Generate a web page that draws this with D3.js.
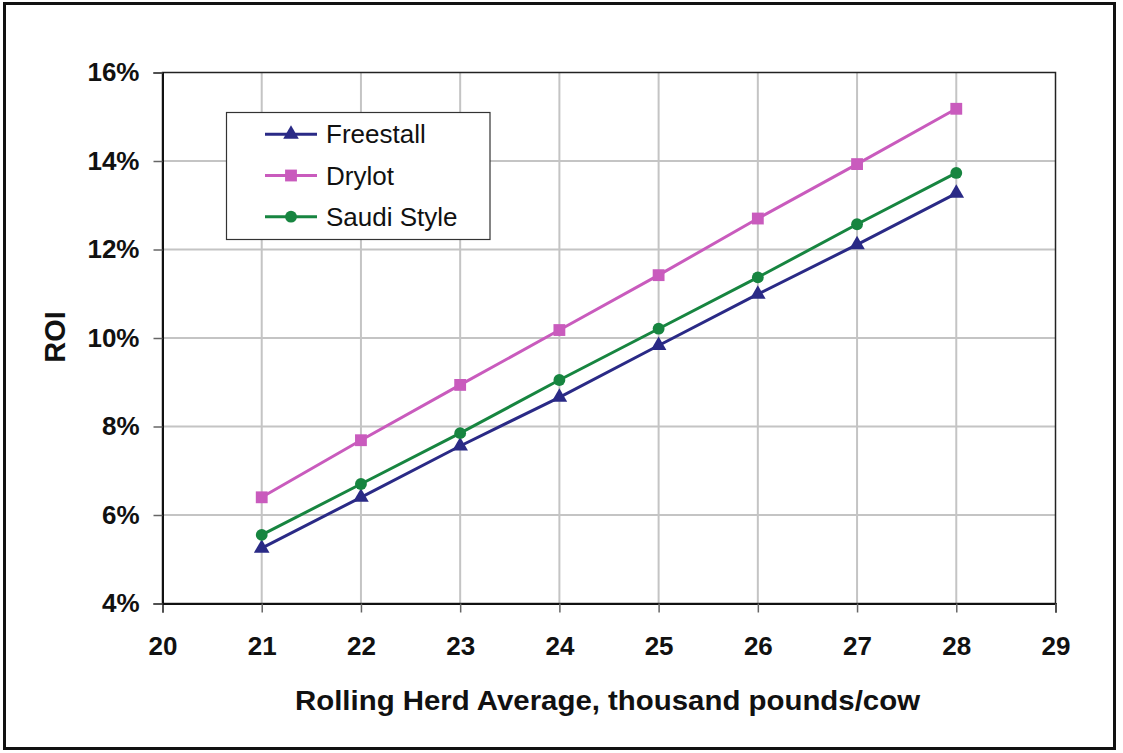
<!DOCTYPE html>
<html>
<head>
<meta charset="utf-8">
<script src="https://cdn.jsdelivr.net/npm/d3@7"></script>
<style>
  html, body { margin: 0; padding: 0; background: #fff; }
  svg { display: block; }
  text { font-family: Arial, "Liberation Sans", sans-serif; fill: #111; }
</style>
</head>
<body>
<svg id="chart" width="1123" height="753"></svg>
<script>
const xValues = [21, 22, 23, 24, 25, 26, 27, 28];
const freestall = [5.25, 6.40, 7.56, 8.66, 9.83, 10.99, 12.11, 13.27];
const drylot    = [6.40, 7.69, 8.94, 10.18, 11.42, 12.70, 13.93, 15.18];
const saudi     = [5.55, 6.70, 7.85, 9.05, 10.21, 11.37, 12.57, 13.73];
const seriesNames = ["Freestall", "Drylot", "Saudi Style"];
const xTicks = [20, 21, 22, 23, 24, 25, 26, 27, 28, 29];
const yTicks = [4, 6, 8, 10, 12, 14, 16];
const xTitle = "Rolling Herd Average, thousand pounds/cow";
const yTitle = "ROI";

const series = [
  { name: seriesNames[0], values: freestall, color: "#2a2a86", symbol: d3.symbolTriangle, size: 105 },
  { name: seriesNames[1], values: drylot,    color: "#c95bbd", symbol: d3.symbolSquare,   size: 140 },
  { name: seriesNames[2], values: saudi,     color: "#178540", symbol: d3.symbolCircle,   size: 110 }
];

const svg = d3.select("#chart");
const plot = { left: 162.5, top: 72.5, right: 1055.5, bottom: 603.5 };
const FONT = "Arial, 'Liberation Sans', sans-serif";

// outer frame
svg.append("rect").attr("x", 4.5).attr("y", 3.5).attr("width", 1110).attr("height", 745)
  .attr("fill", "#fff").attr("stroke", "#111").attr("stroke-width", 3);

const x = d3.scaleLinear().domain([20, 29]).range([plot.left, plot.right]);
const y = d3.scaleLinear().domain([4, 16]).range([plot.bottom, plot.top]);

// gridlines
const grid = svg.append("g");
grid.selectAll("line.vg").data(xTicks.slice(1, -1)).join("line")
  .attr("x1", d => x(d)).attr("x2", d => x(d))
  .attr("y1", plot.top).attr("y2", plot.bottom)
  .attr("stroke", "#c4c4c4").attr("stroke-width", 2);
grid.selectAll("line.hg").data(yTicks.slice(1, -1)).join("line")
  .attr("x1", plot.left).attr("x2", plot.right)
  .attr("y1", d => y(d)).attr("y2", d => y(d))
  .attr("stroke", "#c4c4c4").attr("stroke-width", 2);

// plot border
svg.append("rect").attr("x", plot.left).attr("y", plot.top)
  .attr("width", plot.right - plot.left).attr("height", plot.bottom - plot.top)
  .attr("fill", "none").attr("stroke", "#222").attr("stroke-width", 1.5);

// axes
const xAxis = d3.axisBottom(x).tickValues(xTicks).tickSize(9).tickPadding(24).tickFormat(d3.format("d"));
const gx = svg.append("g").attr("transform", `translate(0,${plot.bottom})`).call(xAxis);
gx.select(".domain").attr("stroke", "#111").attr("stroke-width", 2);
gx.selectAll(".tick line").attr("stroke", "#666").attr("stroke-width", 1.5);
gx.selectAll(".tick text").attr("font-size", 26).attr("font-weight", "bold")
  .attr("font-family", FONT).attr("fill", "#111");

const yAxis = d3.axisLeft(y).tickValues(yTicks).tickSize(9).tickPadding(14).tickFormat(d => d + "%");
const gy = svg.append("g").attr("transform", `translate(${plot.left},0)`).call(yAxis);
gy.select(".domain").attr("stroke", "#111").attr("stroke-width", 2);
gy.selectAll(".tick line").attr("stroke", "#666").attr("stroke-width", 1.5);
gy.selectAll(".tick text").attr("font-size", 26).attr("font-weight", "bold")
  .attr("font-family", FONT).attr("fill", "#111");

// titles
svg.append("text").attr("x", 607.5).attr("y", 710)
  .attr("text-anchor", "middle").attr("font-size", 27).attr("font-weight", "bold")
  .attr("textLength", 625).attr("lengthAdjust", "spacingAndGlyphs").text(xTitle);
svg.append("text").attr("transform", `translate(65,337) rotate(-90)`)
  .attr("text-anchor", "middle").attr("font-size", 29).attr("font-weight", "bold").text(yTitle);

// lines and markers
const line = d3.line().x((d, i) => x(xValues[i])).y(d => y(d));
series.forEach(s => {
  svg.append("path").datum(s.values).attr("d", line)
    .attr("fill", "none").attr("stroke", s.color).attr("stroke-width", 3);
  svg.selectAll(null).data(s.values).join("path")
    .attr("d", d3.symbol().type(s.symbol).size(s.size))
    .attr("transform", (d, i) => `translate(${x(xValues[i])},${y(d)})`)
    .attr("fill", s.color);
});

// legend
const lg = svg.append("g");
lg.append("rect").attr("x", 226.5).attr("y", 112.5).attr("width", 263.5).attr("height", 127)
  .attr("fill", "#fff").attr("stroke", "#333").attr("stroke-width", 1.2);
series.forEach((s, i) => {
  const cy = 134.3 + i * 41.2;
  lg.append("line").attr("x1", 265).attr("x2", 317).attr("y1", cy).attr("y2", cy)
    .attr("stroke", s.color).attr("stroke-width", 3);
  lg.append("path").attr("d", d3.symbol().type(s.symbol).size(s.size))
    .attr("transform", `translate(291,${cy})`).attr("fill", s.color);
  lg.append("text").attr("x", 326).attr("y", cy + 9).attr("font-size", 26).text(s.name);
});
</script>
</body>
</html>
